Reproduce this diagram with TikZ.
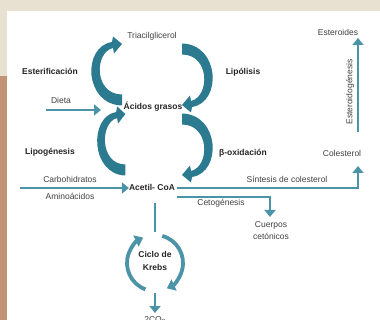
\documentclass[tikz,border=0pt]{standalone}
\usepackage{fontspec}
\setmainfont{Liberation Sans}
\usetikzlibrary{arrows.meta}
\definecolor{tealln}{RGB}{75,147,166}
\definecolor{tealbig}{RGB}{44,122,143}
\definecolor{beigebg}{RGB}{232,224,209}
\definecolor{brownbg}{RGB}{192,147,118}
\definecolor{txt}{RGB}{65,65,65}
\newcommand{\crvarrow}{\fill[bigarrow] (-30,31) .. controls (-68,30) and (-70,-28) .. (-40,-32.5) -- (-39,-38) -- (-30,-30.5) -- (-38,-21) -- (-39,-26.5) .. controls (-58,-22) and (-58,20) .. (-30,20) -- cycle;}
\begin{document}
\begin{tikzpicture}[x=1pt,y=-1pt,
  lbl/.style={font=\fontsize{8.5}{12}\selectfont, text=txt, inner sep=0pt},
  blbl/.style={font=\fontsize{8.5}{13}\selectfont\bfseries, text=black!85, inner sep=0pt},
  ln/.style={draw=tealln, line width=2.4pt},
  arr/.style={ln, -{Triangle[length=7pt,width=11pt]}},
  kr/.style={draw=tealln, line width=3.8pt, -{Triangle[length=8pt,width=12pt]}},
  bigarrow/.style={fill=tealbig},
]
\clip (0,0) rectangle (380,320);
\fill[beigebg] (0,0) rectangle (380,320);
\fill[brownbg] (0,76) rectangle (7,320);
\fill[white] (7,11) rectangle (380,320);

% big curved arrows
\begin{scope}[shift={(152,74.5)}] \crvarrow \end{scope}
\begin{scope}[shift={(152,74.5)}, rotate=180] \crvarrow \end{scope}
\begin{scope}[shift={(153,144.5)}, xscale=0.92] \crvarrow \end{scope}
\begin{scope}[shift={(152,144.5)}, rotate=180] \crvarrow \end{scope}

% labels
\node[lbl] (tri) at (152,36) {Triacilglicerol};
\node[lbl] (esteroides) at (338,32) {Esteroides};
\node[blbl] (esterif) at (50,71) {Esterificación};
\node[blbl] (lipol) at (243,72) {Lipólisis};
\node[lbl] (dieta) at (61,100) {Dieta};
\node[blbl] (acidos) at (153,107) {Ácidos grasos};
\node[blbl] (lipog) at (50,152) {Lipogénesis};
\node[blbl] (beta) at (243,153) {β-oxidación};
\node[lbl] (coles) at (342,153) {Colesterol};
\node[lbl] (carbo) at (70,179) {Carbohidratos};
\node[lbl] (sint) at (287,179) {Síntesis de colesterol};
\node[blbl] (acetil) at (152,187) {Acetil- CoA};
\node[lbl] (amino) at (70,196) {Aminoácidos};
\node[lbl] (ceto) at (221,203) {Cetogénesis};
\node[lbl, align=center] (cuerpos) at (271,231) {Cuerpos\\cetónicos};
\node[blbl, align=center] (krebs) at (155,261) {Ciclo de\\Krebs};
\node[lbl] (co2) at (155,320) {2CO\textsubscript{2}};
\node[lbl, rotate=90] (esteroidog) at (350,92) {Esteroidogénesis};

% connectors
\coordinate (dietaS) at (46,110);
\coordinate (dietaE) at (101,110);
\draw[arr] (dietaS) -- (dietaE);
\coordinate (carboS) at (20,188);
\draw[arr] (carboS) -- (acetil.west |- carboS);
\coordinate (sintC) at (358,188);
\coordinate (sintE) at (358,166);
\draw[arr] ([xshift=2pt]acetil.east |- sintC) -- (sintC) -- (sintE);
\coordinate (cetoC) at (270,197);
\coordinate (cetoE) at (270,217);
\draw[arr] ([xshift=2pt]acetil.east |- cetoC) -- (cetoC) -- (cetoE);
\coordinate (estB) at (358,132);
\coordinate (estT) at (358,38);
\draw[arr] (estB) -- (estT);
\coordinate (krTop) at (155,203);
\coordinate (krIn) at (155,232);
\draw[ln] (krTop) -- (krIn);
\begin{scope}[shift={(155,263)}, y=1pt]
  \draw[kr] (250:28) arc[start angle=250, end angle=115, radius=28];
  \draw[kr] (75:28) arc[start angle=75, end angle=-65, radius=28];
\end{scope}
\coordinate (krOut) at (155,293);
\coordinate (co2T) at (155,313);
\draw[arr] (krOut) -- (co2T);
\end{tikzpicture}
\end{document}
